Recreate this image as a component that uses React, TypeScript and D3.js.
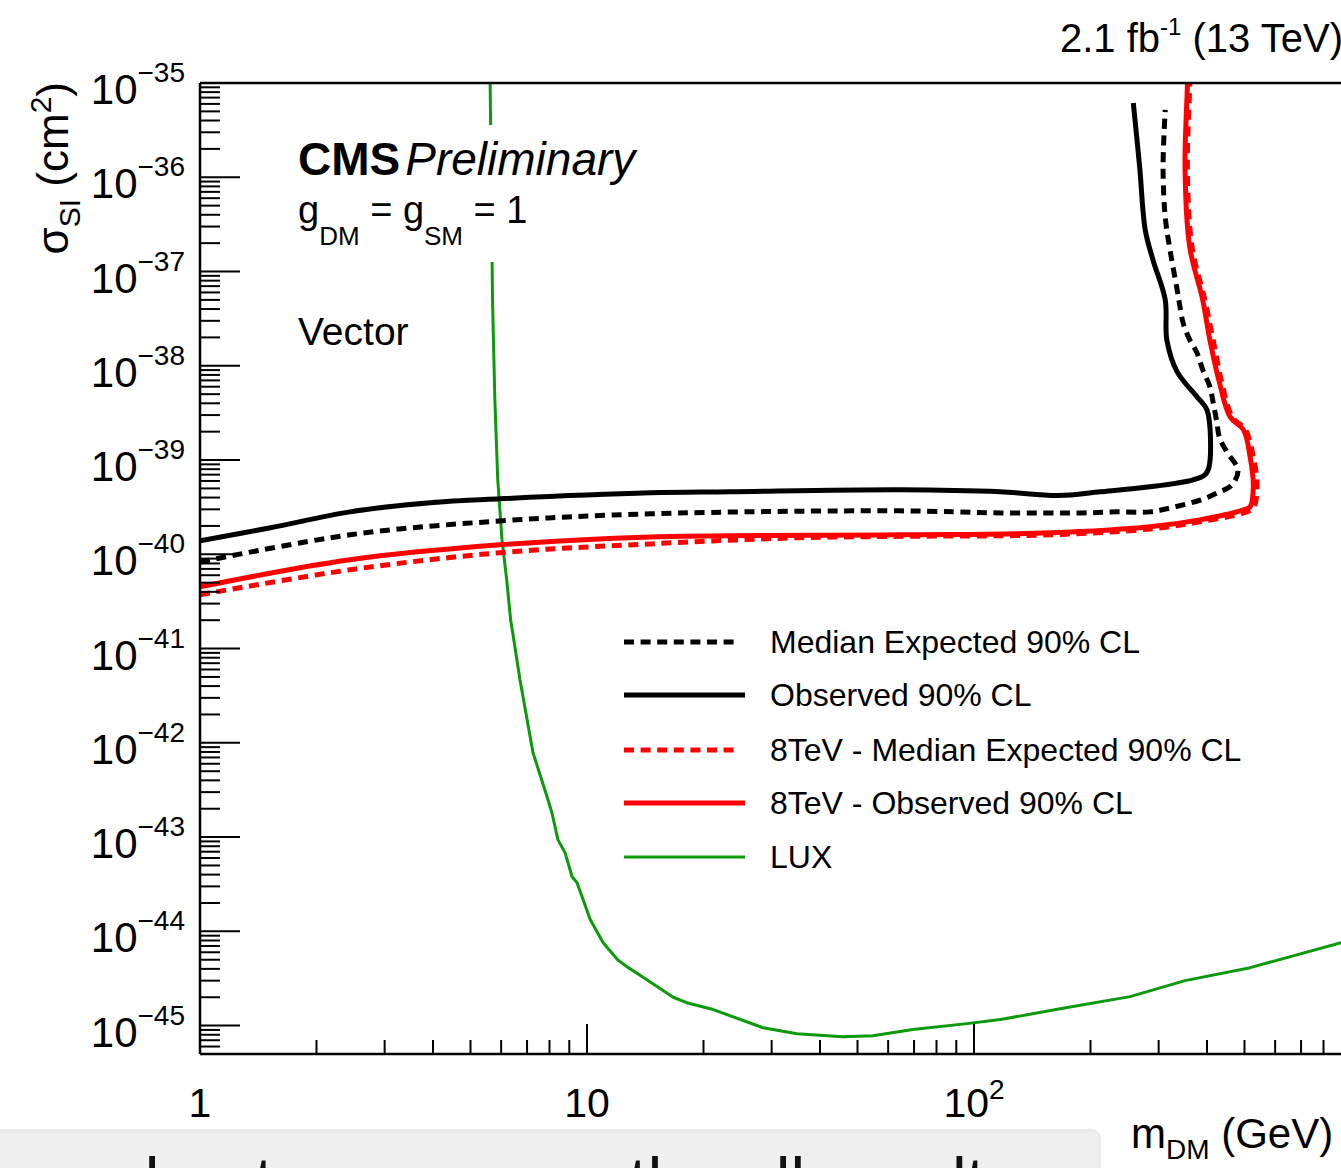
import React from "react";
import * as d3 from "d3";

// 13 TeV observed 90% CL (black solid), contour order
const obsMass = [1, 1.52, 2.44, 3.93, 5.96, 14.6, 23.4, 64.4, 117, 165, 212, 285, 368, 395, 405, 400, 377, 335, 315, 312, 290, 277, 268, 258];
const obsSigma = [1.39e-40, 1.91e-40, 2.82e-40, 3.52e-40, 3.88e-40, 4.49e-40, 4.6e-40, 4.83e-40, 4.6e-40, 4.2e-40, 4.6e-40, 5.2e-40, 6.17e-40, 6.97e-40, 8.47e-40, 3.4e-39, 4.68e-39, 8.61e-39, 1.88e-38, 5.0e-38, 1.33e-37, 2.76e-37, 1.28e-36, 6.14e-36];

// 13 TeV median expected 90% CL (black dotted)
const expMass = [1, 2.44, 5.96, 14.6, 64.4, 117, 190, 235, 285, 315, 347, 386, 426, 464, 481, 452, 431, 424, 415, 407, 390, 377, 361, 347, 340, 335, 322, 312, 308, 312];
const expSigma = [8.3e-41, 1.61e-40, 2.26e-40, 2.69e-40, 2.89e-40, 2.75e-40, 2.75e-40, 2.82e-40, 2.82e-40, 3.04e-40, 3.35e-40, 3.78e-40, 4.49e-40, 5.45e-40, 7.87e-40, 1.19e-39, 1.72e-39, 2.54e-39, 4.05e-39, 5.97e-39, 9.06e-39, 1.37e-38, 1.88e-38, 2.85e-38, 4.42e-38, 6.38e-38, 1.57e-37, 3.79e-37, 1.28e-36, 5.2e-36];

// 8 TeV observed (red solid)
const obs8Mass = [1, 2.44, 5.96, 14.6, 64.4, 157, 285, 383, 497, 517, 527, 517, 497, 459, 431, 407, 390, 361, 351, 356, 357];
const obs8Sigma = [4.52e-41, 8.75e-41, 1.26e-40, 1.53e-40, 1.61e-40, 1.69e-40, 1.96e-40, 2.32e-40, 2.96e-40, 3.19e-40, 5.2e-40, 1.08e-39, 2.09e-39, 2.87e-39, 6.59e-39, 1.88e-38, 5.0e-38, 1.82e-37, 1.28e-36, 9.5e-36, 2e-35];

// 8 TeV median expected (red dotted)
const exp8Mass = [1, 2.44, 5.96, 14.6, 35.5, 64.4, 157, 285, 383, 497, 527, 539, 527, 503, 465, 437, 415, 395, 366, 356, 361, 362];
const exp8Sigma = [3.72e-41, 6.85e-41, 1.04e-40, 1.29e-40, 1.5e-40, 1.55e-40, 1.61e-40, 1.86e-40, 2.21e-40, 2.75e-40, 3.11e-40, 5.2e-40, 1.08e-39, 2.09e-39, 2.87e-39, 6.59e-39, 1.88e-38, 5.0e-38, 1.82e-37, 1.28e-36, 9.5e-36, 2e-35];

// LUX
const luxMass = [5.6, 5.62, 5.7, 5.78, 5.88, 6.03, 6.2, 6.35, 6.44, 6.71, 7.25, 7.88, 8.12, 8.41, 8.78, 9.15, 9.42, 10.2, 11.0, 12.0, 12.7, 13.9, 16.7, 18.1, 21.2, 28.5, 34.9, 45.8, 54.8, 69.5, 95.9, 117, 167, 253, 351, 517, 888, 1000];
const luxSigma = [1e-34, 1.0e-35, 5.0e-38, 4.3e-39, 6.2e-40, 1.43e-40, 5.4e-41, 2.0e-41, 1.4e-41, 4.7e-42, 7.9e-43, 2.7e-43, 1.8e-43, 9.4e-44, 6.8e-44, 3.8e-44, 3.3e-44, 1.33e-44, 7.6e-45, 5.0e-45, 4.2e-45, 3.3e-45, 2.0e-45, 1.75e-45, 1.48e-45, 9.5e-46, 8.2e-46, 7.6e-46, 7.8e-46, 9.1e-46, 1.05e-45, 1.16e-45, 1.51e-45, 2.03e-45, 3.0e-45, 4.12e-45, 7.6e-45, 8.8e-45];

const yTickExponents = [-35, -36, -37, -38, -39, -40, -41, -42, -43, -44, -45];
const xTickValues = [1, 10, 100];
const xTickLabels = ["1", "10", "10"];
const xTickSups = ["", "", "2"];
const legendLabels = [
  "Median Expected 90% CL",
  "Observed 90% CL",
  "8TeV - Median Expected 90% CL",
  "8TeV - Observed 90% CL",
  "LUX",
];

const FONT = "'Liberation Sans', Arial, Helvetica, sans-serif";
const GREEN = "#0c9a0c";
const DOT = "10 6.6";

export default function App() {
  const W = 1341;
  const H = 1168;
  const left = 200, top = 83, bottom = 1054, right = 1361;

  const x = d3.scaleLog().domain([1, 1000]).range([left, right]);
  const y = d3.scaleLog().domain([5e-46, 1e-35]).range([bottom, top]);

  const path = (ms: number[], ss: number[], curve: d3.CurveFactory) =>
    d3
      .line<number>()
      .x((_, i) => x(ms[i]))
      .y((_, i) => y(ss[i]))
      .curve(curve)(ms) || "";

  const smooth = d3.curveCatmullRom.alpha(0.5);

  // minor ticks
  const yMinor: number[] = [];
  for (let n = -46; n <= -36; n++) {
    for (let k = 2; k <= 9; k++) {
      const v = k * Math.pow(10, n);
      if (v >= 5e-46 && v < 1e-35) yMinor.push(v);
    }
  }
  const xMinor: number[] = [];
  for (let n = 0; n <= 2; n++) {
    for (let k = 2; k <= 9; k++) xMinor.push(k * Math.pow(10, n));
  }

  const legendY = [642, 695, 750, 803, 857];
  const legendStyle = [
    { stroke: "#000", dash: DOT, w: 5 },
    { stroke: "#000", dash: null, w: 5 },
    { stroke: "#ff0000", dash: DOT, w: 5 },
    { stroke: "#ff0000", dash: null, w: 5 },
    { stroke: GREEN, dash: null, w: 3 },
  ];

  return (
    <svg
      width={W}
      height={H}
      style={{ position: "absolute", left: 0, top: 0, background: "#fff" }}
      fontFamily={FONT}
    >
      <defs>
        <clipPath id="plot">
          <rect x={left} y={top} width={right - left} height={bottom - top} />
        </clipPath>
      </defs>
      <rect width={W} height={H} fill="#fff" />

      {/* curves */}
      <g clipPath="url(#plot)" fill="none" strokeLinejoin="round">
        <path d={path(luxMass, luxSigma, d3.curveLinear)} stroke={GREEN} strokeWidth={3} />
        <path d={path(exp8Mass, exp8Sigma, smooth)} stroke="#ff0000" strokeWidth={5} strokeDasharray={DOT} />
        <path d={path(obs8Mass, obs8Sigma, smooth)} stroke="#ff0000" strokeWidth={5} />
        <path d={path(expMass, expSigma, smooth)} stroke="#000" strokeWidth={5} strokeDasharray={DOT} />
        <path d={path(obsMass, obsSigma, smooth)} stroke="#000" strokeWidth={5} />
      </g>

      {/* text box over curves */}
      <rect x={285} y={125} width={360} height={137} fill="#fff" />
      <text x={298} y={175} fontSize={46}>
        <tspan fontWeight="bold">CMS</tspan>
        <tspan dx={5} fontStyle="italic">Preliminary</tspan>
      </text>
      <text x={298} y={223} fontSize={38}>
        g<tspan fontSize={26} dy={22}>DM</tspan>
        <tspan dy={-22}> = g</tspan>
        <tspan fontSize={26} dy={22}>SM</tspan>
        <tspan dy={-22}> = 1</tspan>
      </text>
      <text x={298} y={345} fontSize={39}>Vector</text>

      {/* frame */}
      <g stroke="#000" strokeWidth={2.5} fill="none">
        <line x1={left} y1={top} x2={W} y2={top} />
        <line x1={left} y1={top} x2={left} y2={bottom} />
        <line x1={left} y1={bottom} x2={W} y2={bottom} />
      </g>

      {/* y ticks */}
      <g stroke="#000" strokeWidth={2}>
        {yTickExponents.map((e) => (
          <line key={e} x1={left} x2={left + 40} y1={y(Math.pow(10, e))} y2={y(Math.pow(10, e))} />
        ))}
        {yMinor.map((v, i) => (
          <line key={i} x1={left} x2={left + 20} y1={y(v)} y2={y(v)} />
        ))}
      </g>
      {yTickExponents.map((e) => (
        <text key={e} x={185} y={y(Math.pow(10, e)) + 21} fontSize={42} textAnchor="end">
          10<tspan fontSize={28} dy={-22}>{"\u2212" + Math.abs(e)}</tspan>
        </text>
      ))}

      {/* x ticks */}
      <g stroke="#000" strokeWidth={2}>
        {xTickValues.slice(1).map((v) => (
          <line key={v} x1={x(v)} x2={x(v)} y1={bottom} y2={bottom - 30} />
        ))}
        {xMinor.map((v) => (
          <line key={v} x1={x(v)} x2={x(v)} y1={bottom} y2={bottom - 14} />
        ))}
      </g>
      {xTickValues.map((v, i) => (
        <text key={v} x={x(v)} y={1117} fontSize={41} textAnchor="middle">
          {xTickLabels[i]}
          {xTickSups[i] && <tspan fontSize={28} dy={-18}>{xTickSups[i]}</tspan>}
        </text>
      ))}

      {/* axis titles */}
      <text transform="translate(68,82) rotate(-90)" fontSize={44} textAnchor="end">
        σ<tspan fontSize={30} dy={12}>SI</tspan>
        <tspan dy={-12}> (cm</tspan>
        <tspan fontSize={30} dy={-17}>2</tspan>
        <tspan dy={17}>)</tspan>
      </text>
      <text x={1131} y={1148} fontSize={42}>
        m<tspan fontSize={28} dy={11}>DM</tspan>
        <tspan dy={-11}> (GeV)</tspan>
      </text>
      <text x={1060} y={52} fontSize={40}>
        2.1 fb<tspan fontSize={24} dy={-17}>-1</tspan>
        <tspan dy={17}> (13 TeV)</tspan>
      </text>

      {/* legend */}
      {legendLabels.map((label, i) => (
        <g key={label}>
          <line
            x1={624}
            x2={legendStyle[i].dash ? 740 : 745}
            y1={legendY[i]}
            y2={legendY[i]}
            stroke={legendStyle[i].stroke}
            strokeWidth={legendStyle[i].w}
            strokeDasharray={legendStyle[i].dash || undefined}
          />
          <text x={770} y={legendY[i] + 11} fontSize={32}>{label}</text>
        </g>
      ))}

      {/* caption overlay at the bottom */}
      <rect x={-10} y={1130} width={1110} height={70} rx={8} fill="#efefef" stroke="#dcdcdc" />
      <text x={108} y={1204} fontSize={66} fill="#111">about as you see the all results</text>
    </svg>
  );
}
